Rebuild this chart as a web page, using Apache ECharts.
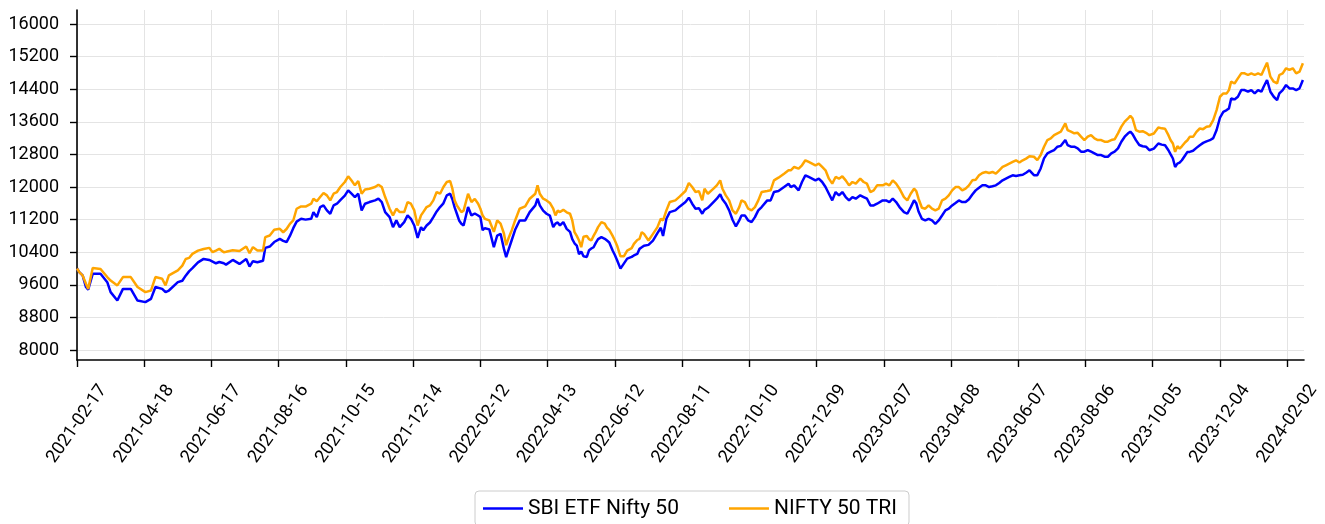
<!DOCTYPE html>
<html>
<head>
<meta charset="utf-8">
<script src="https://cdn.jsdelivr.net/npm/echarts@6.0.0/dist/echarts.min.js"></script>
<style>
  html, body { margin: 0; padding: 0; background: #fff; }
  #chart { width: 1325px; height: 524px; }
</style>
</head>
<body>
<div id="chart"></div>
<script>
// data (days counted from startDate)
var startDate = '2021-02-17';
var dayOffsets = [0,2,5,8,10,14,21,27,30,36,41,48,54,61,66,70,76,79,82,90,94,97,100,103,108,113,118,121,124,127,131,133,139,145,151,154,157,161,166,168,172,176,181,184,187,190,193,196,200,204,209,211,214,217,220,223,226,229,232,235,239,242,245,248,251,254,257,261,266,269,272,275,279,282,285,288,292,295,298,301,304,307,309,312,315,318,321,324,327,330,333,335,337,339,341,343,345,349,352,355,358,360,362,364,368,372,375,378,381,383,385,388,391,395,400,404,409,411,413,416,419,422,425,427,429,431,434,437,440,442,444,446,448,450,452,455,457,459,461,463,465,468,471,473,475,478,480,482,485,488,491,495,497,500,502,504,506,510,514,518,521,523,526,529,534,538,543,546,549,552,555,558,560,563,568,571,574,576,579,582,585,588,591,593,596,599,602,605,608,611,616,619,622,626,631,635,637,640,644,647,650,653,656,659,662,665,668,671,674,677,680,683,686,689,692,695,699,702,705,708,711,714,719,722,725,728,731,734,738,741,744,747,749,751,754,757,760,763,766,769,772,775,778,781,784,787,790,793,796,799,802,805,808,811,814,817,820,823,826,829,832,835,838,841,844,847,850,854,857,860,863,866,869,872,875,878,882,884,887,890,893,896,899,902,905,908,911,914,917,920,923,926,929,932,935,938,940,942,945,948,951,954,957,961,965,968,971,974,976,978,980,982,984,986,989,991,993,996,999,1002,1005,1008,1011,1014,1017,1020,1023,1026,1028,1030,1033,1036,1039,1042,1045,1048,1051,1054,1057,1059,1062,1065,1068,1071,1073,1076,1079,1082,1085,1088,1091,1094];

var sbiEtf = [10000,9910,9830,9545,9480,9870,9870,9665,9420,9215,9500,9500,9215,9175,9255,9545,9500,9420,9460,9665,9700,9825,9930,10010,10150,10236,10211,10170,10129,10160,10130,10096,10211,10113,10236,10047,10180,10154,10190,10507,10540,10650,10728,10680,10650,10800,10990,11150,11220,11200,11220,11385,11262,11508,11549,11426,11344,11549,11590,11680,11790,11918,11836,11754,11836,11426,11590,11631,11672,11713,11631,11385,11262,11015,11180,11015,11138,11303,11220,11056,10753,11015,10941,11056,11130,11262,11400,11508,11600,11795,11836,11700,11500,11344,11180,11100,11056,11508,11303,11350,11300,11262,10941,10990,10960,10523,10810,10851,10482,10277,10450,10700,10950,11180,11180,11385,11549,11713,11549,11420,11344,11300,11015,11100,11130,11056,11138,10974,10900,10720,10620,10564,10350,10420,10300,10285,10450,10490,10523,10630,10720,10770,10730,10687,10640,10441,10330,10203,9998,10121,10244,10285,10320,10359,10482,10520,10560,10580,10687,10870,11000,10800,11220,11385,11426,11524,11631,11737,11590,11467,11480,11344,11440,11491,11631,11713,11820,11700,11590,11426,11196,11032,11180,11303,11303,11180,11138,11260,11426,11508,11672,11672,11877,11902,12000,12082,12000,12041,11918,12123,12287,12246,12205,12164,12205,12123,12000,11836,11672,11877,11795,11877,11754,11672,11754,11713,11795,11754,11713,11549,11549,11590,11672,11672,11631,11713,11631,11508,11385,11344,11500,11672,11600,11400,11220,11180,11221,11180,11098,11180,11300,11426,11467,11549,11610,11672,11631,11631,11700,11815,11918,11984,12041,12041,12000,12020,12041,12100,12164,12205,12246,12287,12270,12287,12300,12350,12410,12291,12291,12455,12702,12825,12866,12907,12989,13010,13153,13030,12989,12989,12948,12866,12866,12907,12866,12825,12784,12784,12743,12743,12825,12866,12948,13112,13235,13317,13358,13300,13150,13030,13000,12990,12903,12944,13067,13040,13026,12903,12800,12700,12492,12575,12600,12657,12780,12862,12862,12890,12960,13026,13083,13120,13149,13200,13400,13700,13846,13887,13928,14174,14150,14215,14379,14379,14338,14379,14297,14379,14338,14462,14626,14338,14215,14133,14297,14379,14502,14420,14420,14379,14420,14626];

var nifty50Tri = [10000,9910,9830,9625,9500,10015,9990,9790,9705,9585,9790,9790,9545,9420,9460,9790,9750,9585,9830,9955,10070,10235,10260,10360,10440,10480,10507,10400,10440,10482,10400,10410,10450,10430,10540,10375,10525,10440,10440,10770,10810,10950,10974,10890,10970,11097,11179,11467,11524,11520,11590,11713,11650,11754,11852,11795,11672,11836,11877,12000,12123,12263,12160,12041,12148,11836,11940,11959,12000,12057,12000,11754,11467,11303,11467,11385,11385,11631,11590,11426,11056,11303,11385,11508,11550,11672,11877,11836,12000,12123,12148,11959,11672,11550,11467,11385,11420,11836,11631,11710,11590,11467,11300,11220,11180,10900,11180,11100,10859,10572,10736,10941,11180,11467,11524,11713,11836,12041,11836,11713,11672,11610,11467,11303,11420,11385,11440,11380,11344,11180,10892,10800,10687,10523,10780,10800,10720,10687,10800,10900,11015,11138,11100,11000,10950,10800,10687,10560,10300,10300,10441,10500,10605,10700,10728,10892,10850,10687,10850,11015,11220,11180,11426,11631,11672,11770,11902,12098,12000,11877,11900,11672,11959,11836,11959,12041,12164,11959,11795,11672,11426,11344,11508,11672,11630,11467,11426,11508,11672,11877,11902,11920,12164,12230,12328,12410,12410,12492,12450,12533,12656,12615,12574,12533,12574,12492,12410,12205,12082,12246,12205,12262,12164,12041,12123,12082,12205,12123,12082,11877,11918,12041,12041,12082,12041,12164,12082,11959,11754,11672,11836,11959,11900,11713,11491,11467,11550,11467,11426,11467,11672,11713,11795,11918,12000,12000,11918,11960,12041,12164,12180,12287,12345,12369,12345,12369,12328,12410,12492,12533,12574,12615,12656,12600,12656,12697,12755,12743,12661,12784,12989,13153,13194,13276,13317,13358,13563,13399,13358,13317,13330,13235,13153,13235,13276,13194,13153,13153,13112,13112,13153,13170,13317,13481,13604,13686,13744,13686,13399,13358,13370,13330,13272,13313,13461,13440,13430,13272,13149,13067,12862,13001,12944,13000,13100,13149,13231,13231,13354,13436,13420,13477,13493,13641,13887,14215,14297,14297,14379,14585,14540,14667,14790,14790,14749,14790,14749,14790,14749,14872,15052,14708,14585,14544,14749,14790,14913,14872,14913,14790,14830,15036];

var tickLabels = ['2021-02-17','2021-04-18','2021-06-17','2021-08-16','2021-10-15','2021-12-14','2022-02-12','2022-04-13','2022-06-12','2022-08-11','2022-10-10','2022-12-09','2023-02-07','2023-04-08','2023-06-07','2023-08-06','2023-10-05','2023-12-04','2024-02-02'];
var yTicks = [8000,8800,9600,10400,11200,12000,12800,13600,14400,15200,16000];

function dayOf(s) {
	return Math.round((Date.parse(s + 'T00:00:00Z') - Date.parse(startDate + 'T00:00:00Z')) / 86400000);
}
var tickDays = tickLabels.map(dayOf);

function pairs(vals) {
	var out = [];
	for (var i = 0; i < dayOffsets.length; i++) {
		out.push([dayOffsets[i], vals[i]]);
	}
	return out;
}

var font = 'Roboto';
var chart = echarts.init(document.getElementById('chart'));

var option = {
	animation: false,
	textStyle: { fontFamily: font },
	grid: { left: 77, right: 21, top: 10, bottom: 164, containLabel: false },
	legend: {
		data: ['SBI ETF Nifty 50', 'NIFTY 50 TRI'],
		left: 475,
		top: 491,
		icon: 'rect',
		itemWidth: 40,
		itemHeight: 2.5,
		itemGap: 50,
		padding: [7, 12, 7, 8],
		borderColor: '#cccccc',
		borderWidth: 1,
		borderRadius: 4,
		textStyle: { fontFamily: font, fontSize: 21, color: '#000' }
	},
	xAxis: {
		type: 'value',
		min: 0,
		max: 1095,
		axisLine: { show: true, onZero: false, lineStyle: { color: '#000', width: 1.6 } },
		axisTick: { show: true, length: 7, lineStyle: { color: '#000', width: 1.4 }, customValues: tickDays },
		splitLine: { show: true, lineStyle: { color: '#e4e4e4', width: 1 } },
		axisLabel: {
			customValues: tickDays,
			rotate: 55,
			align: 'center',
			verticalAlign: 'middle',
			margin: 64,
			fontSize: 18,
			color: '#000',
			fontFamily: font,
			formatter: function (v) {
				var i = tickDays.indexOf(Math.round(v));
				return i >= 0 ? tickLabels[i] : '';
			}
		}
	},
	yAxis: {
		type: 'value',
		min: 7755,
		max: 16344,
		axisLine: { show: true, lineStyle: { color: '#000', width: 1.6 } },
		axisTick: { show: true, length: 7, lineStyle: { color: '#000', width: 1.4 }, customValues: yTicks },
		splitLine: { show: true, lineStyle: { color: '#e4e4e4', width: 1 } },
		axisLabel: {
			customValues: yTicks,
			margin: 18,
			fontSize: 18,
			color: '#000',
			fontFamily: font,
			formatter: function (v) { return String(v); }
		}
	},
	series: [
		{
			name: 'SBI ETF Nifty 50',
			type: 'line',
			showSymbol: false,
			color: '#0000ff',
			lineStyle: { width: 2.5, color: '#0000ff' },
			data: pairs(sbiEtf)
		},
		{
			name: 'NIFTY 50 TRI',
			type: 'line',
			showSymbol: false,
			color: '#ffa500',
			lineStyle: { width: 2.5, color: '#ffa500' },
			data: pairs(nifty50Tri)
		}
	]
};
chart.setOption(option);
</script>
</body>
</html>
